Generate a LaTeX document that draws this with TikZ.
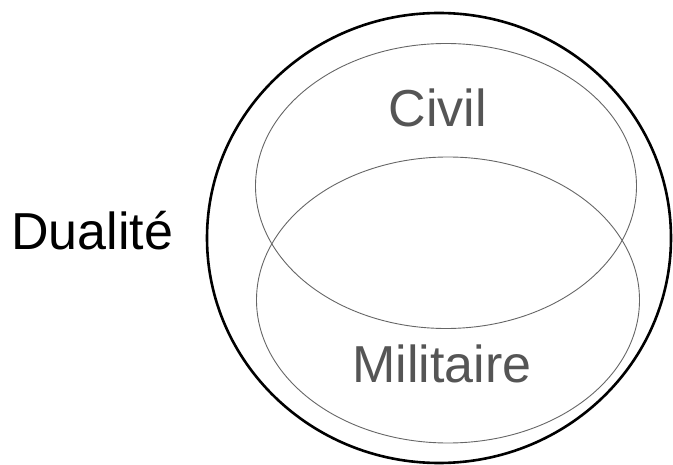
\documentclass[tikz,border=0pt]{standalone}
\usepackage{fontspec}
\setmainfont{Liberation Sans}
\usetikzlibrary{shapes.geometric}
\definecolor{txtgray}{HTML}{555555}
\definecolor{linegray}{HTML}{666666}
\tikzset{
  outerring/.style={draw=black, line width=2.6pt, ellipse, inner sep=0pt},
  innerset/.style={draw=linegray, line width=0.9pt, ellipse, inner sep=0pt},
  label/.style={font=\fontsize{52}{60}\selectfont, inner sep=0pt, anchor=base}
}
\begin{document}
\begin{tikzpicture}[x=1pt,y=-1pt]
\useasboundingbox (0,0) rectangle (673,465);
\node[outerring, minimum width=464pt, minimum height=450pt] (outer) at (439,238) {};
\node[innerset, minimum width=381pt, minimum height=285pt] (civilset) at (446,186) {};
\node[innerset, minimum width=383pt, minimum height=286pt] (milset) at (448,300) {};
\node[label, text=txtgray] (civil) at (438,127) {Civil};
\node[label, text=txtgray] (mil) at (442,383) {Militaire};
\node[label, text=black, anchor=base west] (dual) at (11,250) {Dualité};
\end{tikzpicture}
\end{document}
